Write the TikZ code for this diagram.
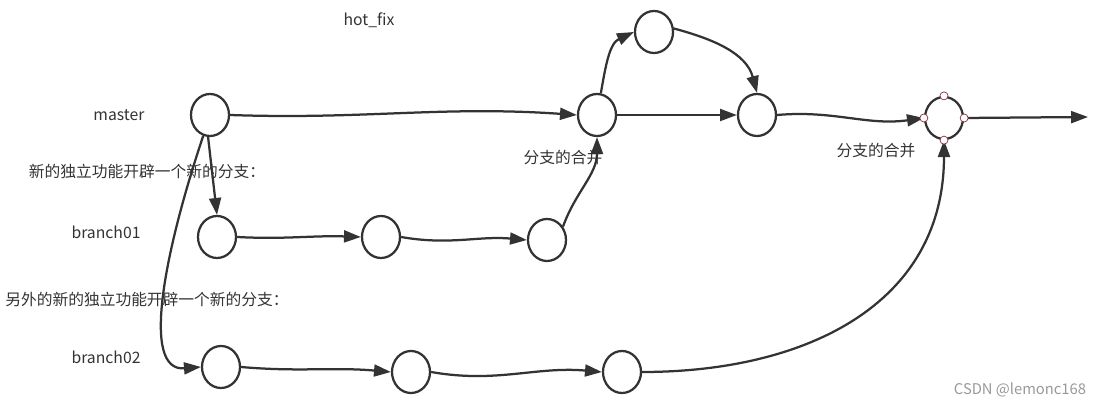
\documentclass[tikz,border=0pt]{standalone}
\usepackage{fontspec}
\setmainfont{Noto Sans CJK SC}
\usetikzlibrary{shapes.geometric,arrows.meta}

\definecolor{inkgray}{HTML}{333333}
\definecolor{handlered}{HTML}{8B2E3A}

\tikzstyle{commit} = [
ellipse,
minimum width=0.95cm,
minimum height=1.05cm,
draw=inkgray,
line width=1.6pt,
fill=white
]
\tikzstyle{label} = [
text=inkgray,
font=\fontsize{11.2}{13}\selectfont
]
\tikzstyle{handle} = [
circle,
inner sep=0pt,
minimum size=0.2cm,
draw=handlered,
line width=0.5pt,
fill=white
]
\tikzstyle{arrow} = [
draw=inkgray,
line width=1.6pt,
-{Triangle[length=12pt,width=8.5pt]}
]

\begin{document}
\begin{tikzpicture}[
x=0.025cm,
y=-0.025cm
]
\useasboundingbox (0,0) rectangle (1100,405);

% Labels
\node (hotfix) [label] at (369,20) {hot\_fix};
\node (master) [label] at (119,115) {master};
\node (newtext) [label] at (147,172) {新的独立功能开辟一个新的分支：};
\node (branchA) [label] at (106,232) {branch01};
\node (othertext) [label] at (147,300) {另外的新的独立功能开辟一个新的分支：};
\node (branchB) [label] at (106,357) {branch02};
\node (mergeA) [label] at (563,158) {分支的合并};
\node (mergeB) [label] at (876,151) {分支的合并};
\node (mark) [text=black!40, font=\fontsize{10.5}{12}\selectfont] at (1020,390) {CSDN @lemonc168};

% Nodes
\node (m1) [commit] at (210,115) {};
\node (m2) [commit] at (597,115) {};
\node (h1) [commit] at (654,32) {};
\node (m3) [commit] at (757,115) {};
\node (m4) [commit] at (944,118) {};
\coordinate (tip) at (1088,117);

\node (b1a) [commit] at (217,237) {};
\node (b1b) [commit] at (381,237) {};
\node (b1c) [commit] at (547,240) {};

\node (b2a) [commit] at (221,367) {};
\node (b2b) [commit] at (411,372) {};
\node (b2c) [commit] at (622,372) {};

% Arrows
\draw [arrow] (m1.east) to[out=-2,in=176] (m2.west);
\draw [arrow] (m2.80) to[out=80,in=205] (h1.west);
\draw [arrow] (h1.10) to[out=-15,in=105] (m3.north);
\draw [arrow] (m2.east) to[out=0,in=180] (m3.west);
\draw [arrow] (m3.east) to[out=5,in=188] (m4.west);
\draw [arrow] (m4.east) -- (tip);

\draw [arrow] (m1.265) -- (b1a.north);
\draw [arrow] (m1.252) .. controls (165,250) and (140,372) .. (b2a.west);

\draw [arrow] (b1a.east) to[out=-3,in=178] (b1b.west);
\draw [arrow] (b1b.east) to[out=-10,in=175] (b1c.west);
\draw [arrow] (b1c.40) to[out=70,in=-90] (m2.south);

\draw [arrow] (b2a.east) to[out=-5,in=175] (b2b.west);
\draw [arrow] (b2b.east) to[out=-10,in=175] (b2c.west);
\draw [arrow] (b2c.east) to[out=0,in=-90,looseness=1.1] (m4.south);

% Handles
\foreach \side in {north,south,east,west}
  \node [handle] at (m4.\side) {};

\end{tikzpicture}
\end{document}
